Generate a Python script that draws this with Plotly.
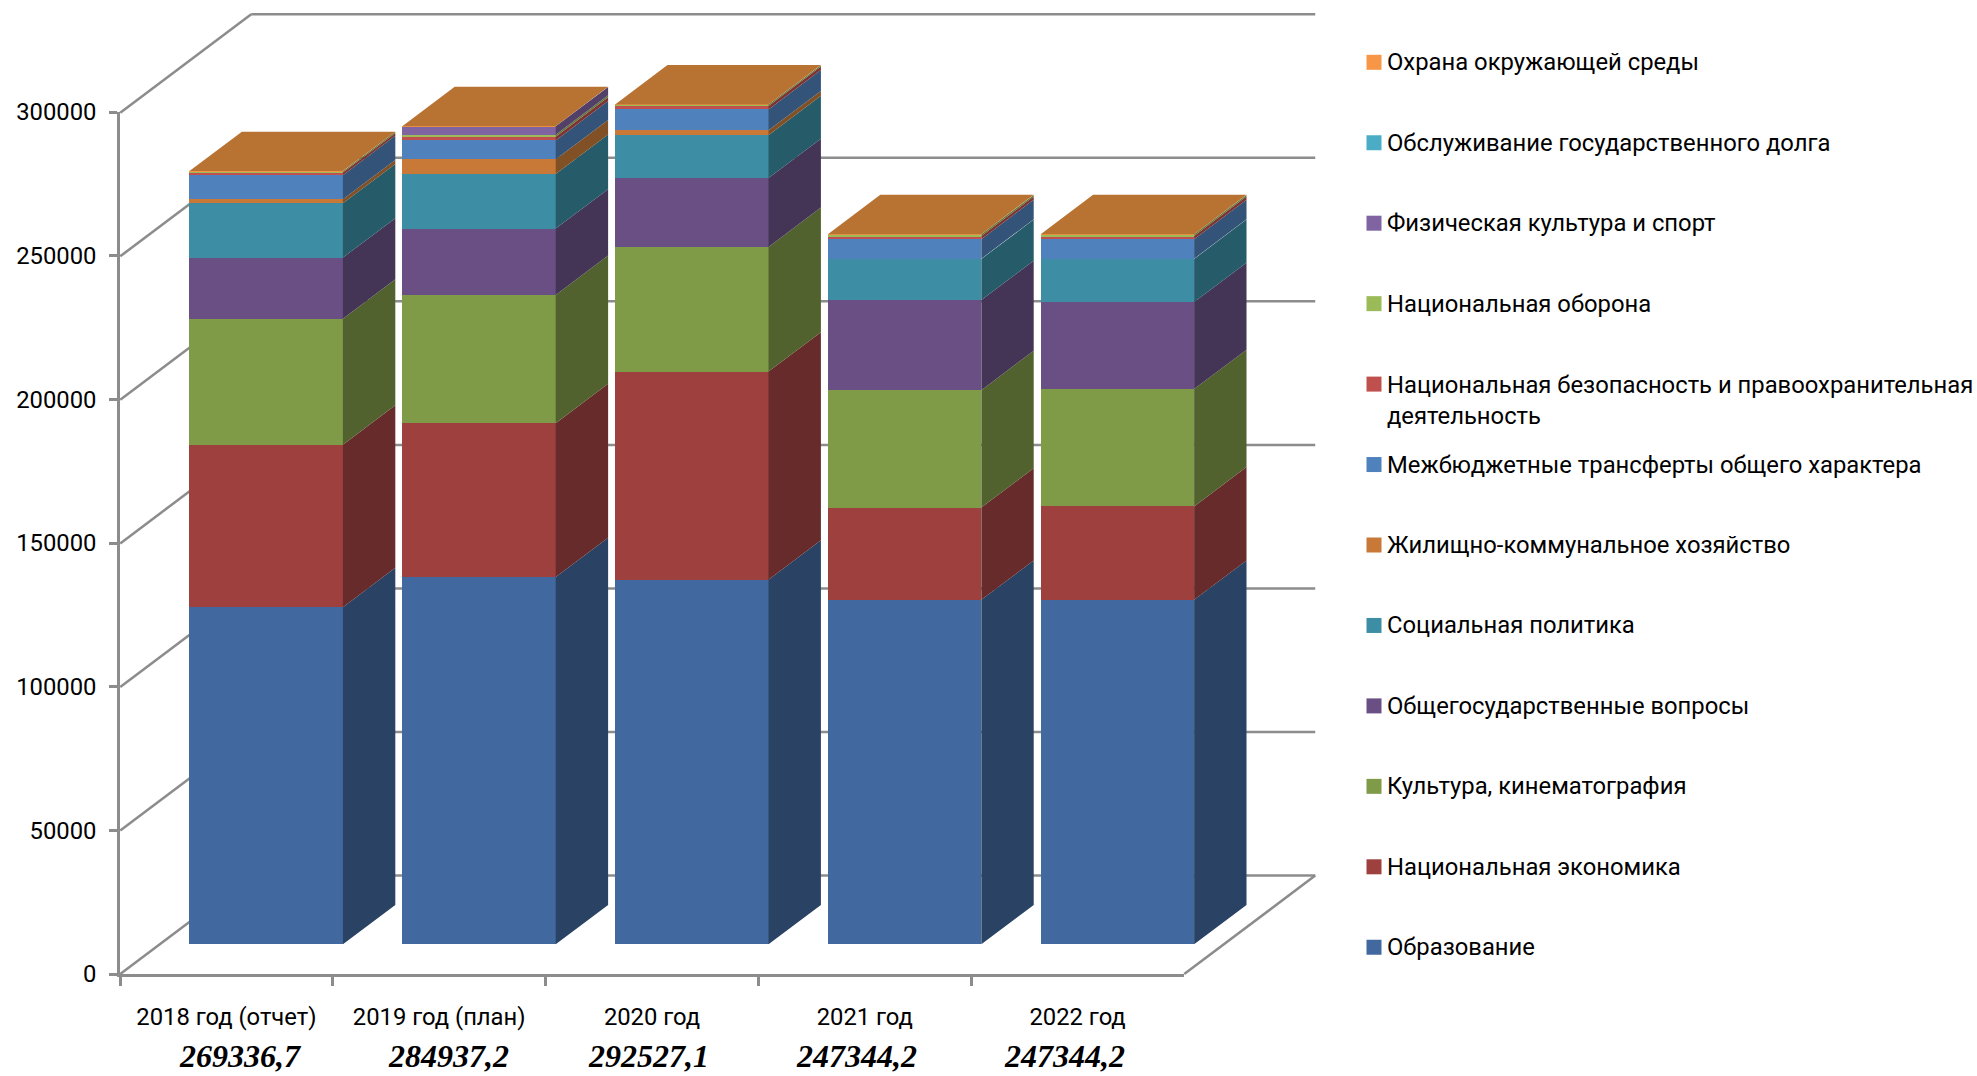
import plotly.graph_objects as go

W, H = 1977, 1076

categories = ["2018 год (отчет)", "2019 год (план)", "2020 год", "2021 год", "2022 год"]
totals = ["269336,7", "284937,2", "292527,1", "247344,2", "247344,2"]

obrazovanie = [117400, 127900, 127000, 120000, 120000]
nac_ekonomika = [56600, 53600, 72500, 32100, 32500]
kultura = [43900, 44700, 43400, 40900, 40900]
obshchegos = [21300, 23100, 24000, 31400, 30300]
soc_politika = [18900, 19000, 14900, 14300, 15000]
zhkh = [1400, 5100, 1700, 100, 100]
transferty = [8400, 6600, 7300, 6800, 6800]
bezopasnost = [900, 1300, 1200, 1100, 1100]
oborona = [500, 700, 500, 600, 600]
sport = [20, 2900, 10, 20, 20]
dolg = [7, 17, 7, 14, 14]
ohrana = [10, 20, 10, 10, 10]

series_names = [
    "Образование", "Национальная экономика", "Культура, кинематография",
    "Общегосударственные вопросы", "Социальная политика", "Жилищно-коммунальное хозяйство",
    "Межбюджетные трансферты общего характера",
    "Национальная безопасность и правоохранительная<br>деятельность",
    "Национальная оборона", "Физическая культура и спорт",
    "Обслуживание государственного долга", "Охрана окружающей среды",
]
series_values = [obrazovanie, nac_ekonomika, kultura, obshchegos, soc_politika, zhkh,
                 transferty, bezopasnost, oborona, sport, dolg, ohrana]
front_colors = ["#41699F", "#9D403E", "#809B48", "#6A4F85", "#3D8DA4", "#C87938",
                "#4F81BD", "#C0504D", "#9BBB59", "#8064A2", "#4BACC6", "#F79646"]
side_colors = ["#2A4365", "#662B2A", "#52622F", "#443556", "#265B6A", "#825025",
               "#335378", "#7C3331", "#637739", "#524068", "#30707F", "#A0622D"]
top_color = "#B87333"
y_ticks = [0, 50000, 100000, 150000, 200000, 250000, 300000]

# Geometry of the oblique projection
PX_CAT = 212.8          # px per category
PX_VAL = 2.871 / 1000   # px per unit of value
CAT0_PX = 266.2         # px of category 0 in the bar plane
VAL0_PX = 944.3         # px of value 0 in the bar plane
WALL_DX = 131.0         # px from the front of the box to its back wall
WALL_DY = 98.5
BAR_FRONT = 0.302       # depth fraction of the bar faces
BAR_BACK = 0.702
BAR_WIDTH = 0.721
GRID = "#8C8C8C"
FONT = "Roboto"
FS = 23.8


def proj(cat, val, depth):
    d = depth - BAR_FRONT
    return cat + d * WALL_DX / PX_CAT, val + d * WALL_DY / PX_VAL


def data_x(px):
    return (px - CAT0_PX) / PX_CAT


def data_y(py):
    return (VAL0_PX - py) / PX_VAL


fig = go.Figure()

# Front faces: native stacked bars
xs = list(range(len(categories)))
for name, vals, col in zip(series_names, series_values, front_colors):
    fig.add_trace(go.Bar(x=xs, y=vals, name=name.replace("<br>", " "), width=BAR_WIDTH,
                         marker=dict(color=col, line=dict(width=0)), hoverinfo="name+y",
                         showlegend=False, xaxis="x", yaxis="y"))

# Side faces computed from the same values
base = [0] * len(categories)
for name, vals, col in zip(series_names, series_values, side_colors):
    px, py = [], []
    for i, v in enumerate(vals):
        r = i + BAR_WIDTH / 2
        corners = [proj(r, base[i], BAR_FRONT), proj(r, base[i], BAR_BACK),
                   proj(r, base[i] + v, BAR_BACK), proj(r, base[i] + v, BAR_FRONT),
                   proj(r, base[i], BAR_FRONT)]
        px += [c[0] for c in corners] + [None]
        py += [c[1] for c in corners] + [None]
        base[i] += v
    fig.add_trace(go.Scatter(x=px, y=py, mode="lines", fill="toself", fillcolor=col,
                             line=dict(width=0, color=col), hoverinfo="skip", showlegend=False,
                             cliponaxis=False, xaxis="x", yaxis="y"))

# Top faces
px, py = [], []
for i, top in enumerate(base):
    l, r = i - BAR_WIDTH / 2, i + BAR_WIDTH / 2
    corners = [proj(l, top, BAR_FRONT), proj(r, top, BAR_FRONT), proj(r, top, BAR_BACK),
               proj(l, top, BAR_BACK), proj(l, top, BAR_FRONT)]
    px += [c[0] for c in corners] + [None]
    py += [c[1] for c in corners] + [None]
fig.add_trace(go.Scatter(x=px, y=py, mode="lines", fill="toself", fillcolor=top_color,
                         line=dict(width=0, color=top_color), hoverinfo="skip", showlegend=False,
                         xaxis="x", yaxis="y"))

# Walls and gridlines under the bars
shapes = []
left, right = -0.5, len(categories) - 0.5


def seg(a, b):
    shapes.append(dict(type="line", xref="x", yref="y", layer="below",
                       x0=a[0], y0=a[1], x1=b[0], y1=b[1],
                       line=dict(color=GRID, width=2.5)))


for t in y_ticks:
    seg(proj(left, t, 0), proj(left, t, 1))
    seg(proj(left, t, 1), proj(right, t, 1))
seg(proj(right, 0, 0), proj(right, 0, 1))

# Front axes with their ticks and labels
fig.add_trace(go.Scatter(x=categories, y=[0] * len(categories), mode="markers",
                         marker=dict(opacity=0), hoverinfo="skip", showlegend=False,
                         xaxis="x2", yaxis="y2"))

# Legend keys and labels
annotations = []
for k, (name, col) in enumerate(zip(reversed(series_names), reversed(front_colors))):
    cy = 62.3 + 80.45 * k
    fig.add_trace(go.Scatter(x=[data_x(1374)], y=[data_y(cy)], mode="markers",
                             marker=dict(symbol="square", size=15, color=col),
                             hoverinfo="skip", showlegend=False, xaxis="x", yaxis="y"))
    two_lines = "<br>" in name
    annotations.append(dict(xref="paper", yref="paper", x=1385 / W,
                            y=1 - (cy + (16 if two_lines else 0)) / H,
                            text=name, showarrow=False, xanchor="left", yanchor="middle",
                            align="left", font=dict(family=FONT, size=FS, color="#000000")))

# Totals under the axis
for cx, txt in zip([240, 448, 648, 856, 1064], totals):
    annotations.append(dict(xref="paper", yref="paper", x=cx / W, y=1 - 1056 / H,
                            text="<b><i>" + txt + "</i></b>", showarrow=False,
                            xanchor="center", yanchor="middle",
                            font=dict(family="Liberation Serif", size=32, color="#000000")))

fig.update_layout(
    width=W, height=H, margin=dict(l=0, r=0, t=0, b=0, autoexpand=False),
    paper_bgcolor="white", plot_bgcolor="rgba(0,0,0,0)",
    barmode="stack", bargap=0, showlegend=False,
    shapes=shapes, annotations=annotations,
    font=dict(family=FONT, size=FS, color="#000000"),
    xaxis=dict(domain=[0, 1], range=[data_x(0), data_x(W)], visible=False, fixedrange=True),
    yaxis=dict(domain=[0, 1], range=[data_y(H), data_y(0)], visible=False, fixedrange=True),
    xaxis2=dict(domain=[120 / W, 1184 / W], type="category", categoryorder="array",
                categoryarray=categories, tickson="boundaries", ticks="outside", ticklen=9,
                tickwidth=2.5, tickcolor=GRID, showline=True, linecolor=GRID, linewidth=2.5,
                showgrid=False, zeroline=False, anchor="y2", range=[-0.5, 4.5],
                ticklabelstandoff=20, tickangle=0, tickfont=dict(family=FONT, size=FS)),
    yaxis2=dict(domain=[(H - 974) / H, (H - 112) / H], range=[0, 300000], tickvals=y_ticks,
                tickformat="d", ticks="outside", ticklen=8, tickwidth=2.5, tickcolor=GRID,
                showline=True, linecolor=GRID, linewidth=2.5, showgrid=False, zeroline=False,
                anchor="x2", ticklabelstandoff=8, tickfont=dict(family=FONT, size=FS)),
)

fig.write_html("out.html", config=dict(displayModeBar=False),
               post_script="document.body.style.margin='0';document.documentElement.style.overflow='hidden';")
